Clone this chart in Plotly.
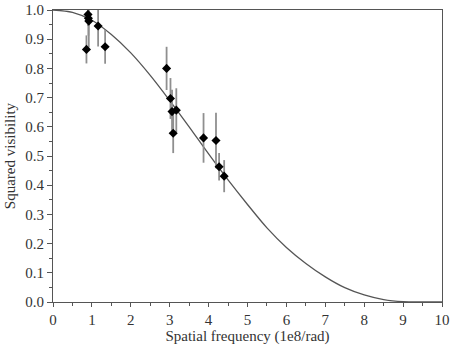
import plotly.graph_objects as go

# Measured data points (spatial frequency in 1e8/rad, squared visibility, error)
freq = [0.86, 0.90, 0.91, 0.92, 1.16, 1.34, 2.92, 3.02, 3.06, 3.17, 3.09, 3.87, 4.19, 4.27, 4.40]
vis2 = [0.865, 0.985, 0.972, 0.962, 0.945, 0.874, 0.800, 0.697, 0.652, 0.657, 0.578, 0.562, 0.553, 0.463, 0.431]
err = [0.048, 0.04, 0.06, 0.09, 0.07, 0.058, 0.074, 0.07, 0.075, 0.075, 0.068, 0.085, 0.095, 0.047, 0.055]

# Model curve
model_x = [0, 0.5, 1.0, 1.5, 2.0, 2.5, 3.0, 3.5, 4.0, 4.5, 5.0, 5.5, 6.0, 6.5, 7.0, 7.5, 8.0, 8.5, 9.0, 9.5, 10.0]
model_y = [1.0, 0.992, 0.965, 0.916, 0.853, 0.776, 0.690, 0.600, 0.507, 0.418, 0.334, 0.254, 0.187, 0.132, 0.086, 0.049, 0.024, 0.008, 0.001, 0.0, 0.0]

xticks = [0, 1, 2, 3, 4, 5, 6, 7, 8, 9, 10]
yticks = [0.0, 0.1, 0.2, 0.3, 0.4, 0.5, 0.6, 0.7, 0.8, 0.9, 1.0]

font_family = "Liberation Serif"
axis_col = "#555555"

fig = go.Figure()
fig.add_trace(go.Scatter(
    x=model_x, y=model_y, mode="lines", line=dict(color="#555555", width=1.3, shape="spline", smoothing=0.8),
    hoverinfo="skip", showlegend=False))
fig.add_trace(go.Scatter(
    x=freq, y=vis2, mode="markers",
    marker=dict(symbol="diamond", size=7, color="black"),
    error_y=dict(type="data", array=err, color="#8f8f8f", thickness=1.8, width=0),
    showlegend=False))

fig.update_layout(
    width=452, height=353,
    margin=dict(l=53, r=10, t=10, b=51, autoexpand=False),
    paper_bgcolor="white", plot_bgcolor="white",
    font=dict(family=font_family, size=15, color="#333333"),
    xaxis=dict(
        range=[0, 10], tickvals=xticks, ticktext=[str(t) for t in xticks], automargin=False,
        showgrid=False, zeroline=False, showline=True, linecolor=axis_col, linewidth=1, mirror=True,
        ticks="outside", ticklen=4, tickcolor=axis_col,
        minor=dict(dtick=0.5, ticks="outside", ticklen=2.5, tickcolor=axis_col),
        title=dict(text="Spatial frequency (1e8/rad)", font=dict(size=15), standoff=0),
        tickfont=dict(size=15),
    ),
    yaxis=dict(
        range=[0, 1], tickvals=yticks, ticktext=[f"{t:.1f}" for t in yticks], automargin=False,
        showgrid=False, zeroline=False, showline=True, linecolor=axis_col, linewidth=1, mirror=True,
        ticks="outside", ticklen=5, tickcolor=axis_col,
        minor=dict(dtick=0.05, ticks="outside", ticklen=3, tickcolor=axis_col),
        title=dict(text="Squared visibility", font=dict(size=15), standoff=6),
        tickfont=dict(size=15),
    ),
)
fig.write_html("out.html")
